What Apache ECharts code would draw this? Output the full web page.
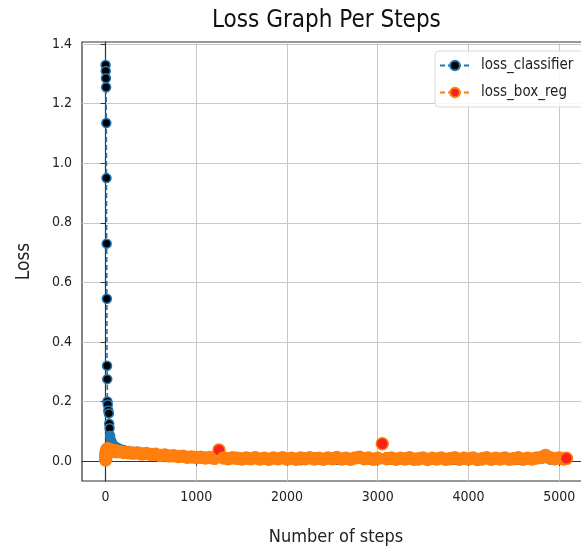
<!DOCTYPE html>
<html>
<head>
<meta charset="utf-8">
<script src="https://cdn.jsdelivr.net/npm/echarts@6/dist/echarts.min.js"></script>
<style>
  html, body { margin: 0; background: #fff; overflow: hidden; }
  #chart { width: 600px; height: 548px; }
</style>
</head>
<body>
<div id="chart"></div>
<script>
// steps: dense at the start, then every 50
const steps = [
  0, 2, 4, 6, 8, 10, 12, 14, 16, 18, 20, 24, 30, 36, 40, 44, 50, 60, 70, 80, 100, 120, 150, 200,
  250, 300, 350, 400, 450, 500, 550, 600, 650, 700,
  750, 800, 850, 900, 950, 1000, 1050, 1100, 1150, 1200,
  1250, 1300, 1350, 1400, 1450, 1500, 1550, 1600, 1650, 1700,
  1750, 1800, 1850, 1900, 1950, 2000, 2050, 2100, 2150, 2200,
  2250, 2300, 2350, 2400, 2450, 2500, 2550, 2600, 2650, 2700,
  2750, 2800, 2850, 2900, 2950, 3000, 3050, 3100, 3150, 3200,
  3250, 3300, 3350, 3400, 3450, 3500, 3550, 3600, 3650, 3700,
  3750, 3800, 3850, 3900, 3950, 4000, 4050, 4100, 4150, 4200,
  4250, 4300, 4350, 4400, 4450, 4500, 4550, 4600, 4650, 4700,
  4750, 4800, 4850, 4900, 4950, 5000, 5050, 5080
];

const lossClassifier = [
  1.33, 1.31, 1.285, 1.255, 1.135, 0.95, 0.73, 0.545, 0.32, 0.275, 0.2, 0.19, 0.17, 0.16, 0.125, 0.11, 0.085, 0.07, 0.062, 0.056, 0.05, 0.046, 0.042, 0.037,
  0.034, 0.031, 0.031, 0.028, 0.028, 0.025, 0.026, 0.021, 0.022, 0.019,
  0.02, 0.016, 0.018, 0.014, 0.016, 0.013, 0.015, 0.011, 0.013, 0.01,
  0.012, 0.011, 0.009, 0.013, 0.008, 0.011, 0.006, 0.012, 0.009, 0.004,
  0.011, 0.008, 0.014, 0.006, 0.01, 0.005, 0.012, 0.008, 0.003, 0.011,
  0.009, 0.013, 0.005, 0.01, 0.007, 0.012, 0.004, 0.009, 0.014, 0.006,
  0.01, 0.008, 0.012, 0.005, 0.009, 0.011, 0.007, 0.013, 0.004, 0.01,
  0.008, 0.012, 0.006, 0.009, 0.003, 0.011, 0.008, 0.013, 0.005, 0.01,
  0.007, 0.012, 0.004, 0.009, 0.014, 0.006, 0.01, 0.008, 0.003, 0.011,
  0.009, 0.013, 0.005, 0.01, 0.007, 0.012, 0.004, 0.009, 0.011, 0.006,
  0.013, 0.008, 0.01, 0.005, 0.009, 0.012, 0.006, 0.008
];

const lossBoxReg = [
  0.004, 0.012, 0.02, 0.026, 0.03, 0.034, 0.032, 0.038, 0.036, 0.04, 0.037, 0.041, 0.039, 0.036, 0.038, 0.035, 0.037, 0.034, 0.036, 0.033, 0.035, 0.031, 0.032, 0.029,
  0.028, 0.026, 0.027, 0.024, 0.025, 0.022, 0.023, 0.019, 0.02, 0.017,
  0.018, 0.015, 0.016, 0.013, 0.014, 0.012, 0.013, 0.01, 0.012, 0.009,
  0.037, 0.01, 0.008, 0.011, 0.009, 0.007, 0.01, 0.008, 0.011, 0.007,
  0.009, 0.006, 0.01, 0.008, 0.011, 0.007, 0.009, 0.006, 0.01, 0.008,
  0.011, 0.007, 0.009, 0.006, 0.01, 0.008, 0.012, 0.007, 0.009, 0.006,
  0.01, 0.013, 0.008, 0.01, 0.006, 0.009, 0.058, 0.008, 0.01, 0.006,
  0.009, 0.007, 0.011, 0.006, 0.008, 0.01, 0.005, 0.009, 0.007, 0.01,
  0.006, 0.008, 0.011, 0.006, 0.009, 0.007, 0.01, 0.005, 0.008, 0.011,
  0.006, 0.009, 0.007, 0.01, 0.006, 0.008, 0.011, 0.006, 0.009, 0.007,
  0.01, 0.012, 0.019, 0.011, 0.008, 0.01, 0.007, 0.009
];

const xTicks = [0, 1000, 2000, 3000, 4000, 5000];
const yTicks = [0, 0.2, 0.4, 0.6, 0.8, 1.0, 1.2, 1.4];

const FONT = "'DejaVu Sans Condensed', 'DejaVu Sans', sans-serif";

// a marker shows its face colour only where it is not buried in the band
function toPoints(vals, face, edge, showsFace) {
  return vals.map((v, i) => ({
    value: [steps[i], v],
    itemStyle: { color: showsFace(v, i, vals) ? face : edge }
  }));
}

const spikeFace = (v) => v >= 0.1;
const outlierFace = (v, i, vals) => {
  if (i === vals.length - 1) return true;
  if (i === 0) return false;
  return v - (vals[i - 1] + vals[i + 1]) / 2 > 0.015;
};

const chart = echarts.init(document.getElementById('chart'));

chart.setOption({
  animation: false,
  textStyle: { fontFamily: FONT },
  title: {
    text: 'Loss Graph Per Steps',
    left: 207,
    top: 4,
    textStyle: { fontFamily: FONT, fontSize: 24, fontWeight: 'normal', color: '#111' }
  },
  legend: {
    orient: 'vertical',
    left: 435,
    top: 51,
    padding: [7, 12, 7, 4],
    itemWidth: 30,
    itemHeight: 12,
    itemGap: 12,
    backgroundColor: 'rgba(255,255,255,0.85)',
    borderColor: '#d8d8d8',
    borderWidth: 1,
    borderRadius: 4,
    textStyle: { fontFamily: FONT, fontSize: 15, color: '#222', padding: [0, 0, 0, 6] },
    data: ['loss_classifier', 'loss_box_reg']
  },
  grid: {
    left: 82,
    right: 10,
    top: 42,
    bottom: 67,
    outerBoundsMode: 'none',
    show: true,
    borderColor: '#333',
    borderWidth: 1.2,
    backgroundColor: 'transparent'
  },
  xAxis: {
    type: 'value',
    min: -260,
    max: 5340,
    splitNumber: 5,
    name: 'Number of steps',
    nameLocation: 'middle',
    nameGap: 47,
    nameTextStyle: { fontFamily: FONT, fontSize: 18, color: '#222' },
    axisLine: { show: true, lineStyle: { color: '#333', width: 1.2 } },
    axisTick: { show: true, length: 5, lineStyle: { color: '#333' }, customValues: xTicks },
    axisLabel: {
      fontFamily: FONT, fontSize: 14, color: '#222', margin: 9,
      customValues: xTicks,
      formatter: (v) => String(v)
    },
    splitLine: { show: true, lineStyle: { color: '#c8c8c8', width: 1 } }
  },
  yAxis: {
    type: 'value',
    min: -0.067,
    max: 1.407,
    splitNumber: 7,
    name: 'Loss',
    nameLocation: 'middle',
    nameGap: 48,
    nameTextStyle: { fontFamily: FONT, fontSize: 19, color: '#222' },
    axisLine: { show: true, lineStyle: { color: '#333', width: 1.2 } },
    axisTick: { show: true, length: 5, lineStyle: { color: '#333' }, customValues: yTicks },
    axisLabel: {
      fontFamily: FONT, fontSize: 14, color: '#222', margin: 10,
      customValues: yTicks,
      formatter: (v) => v.toFixed(1)
    },
    splitLine: { show: true, lineStyle: { color: '#c8c8c8', width: 1 } }
  },
  series: [
    {
      name: 'loss_classifier',
      type: 'line',
      symbol: 'circle',
      symbolSize: 9,
      lineStyle: { color: '#1f77b4', width: 1.6, type: [5, 3] },
      itemStyle: { color: '#000', borderColor: '#1f77b4', borderWidth: 1.5 },
      data: toPoints(lossClassifier, '#000', '#1f77b4', spikeFace)
    },
    {
      name: 'loss_box_reg',
      type: 'line',
      symbol: 'circle',
      symbolSize: 12,
      lineStyle: { color: '#ff7f0e', width: 1.6, type: [5, 3] },
      itemStyle: { color: '#f5231a', borderColor: '#ff7f0e', borderWidth: 1.5 },
      data: toPoints(lossBoxReg, '#f5231a', '#ff7f0e', outlierFace)
    }
  ]
});
</script>
</body>
</html>
